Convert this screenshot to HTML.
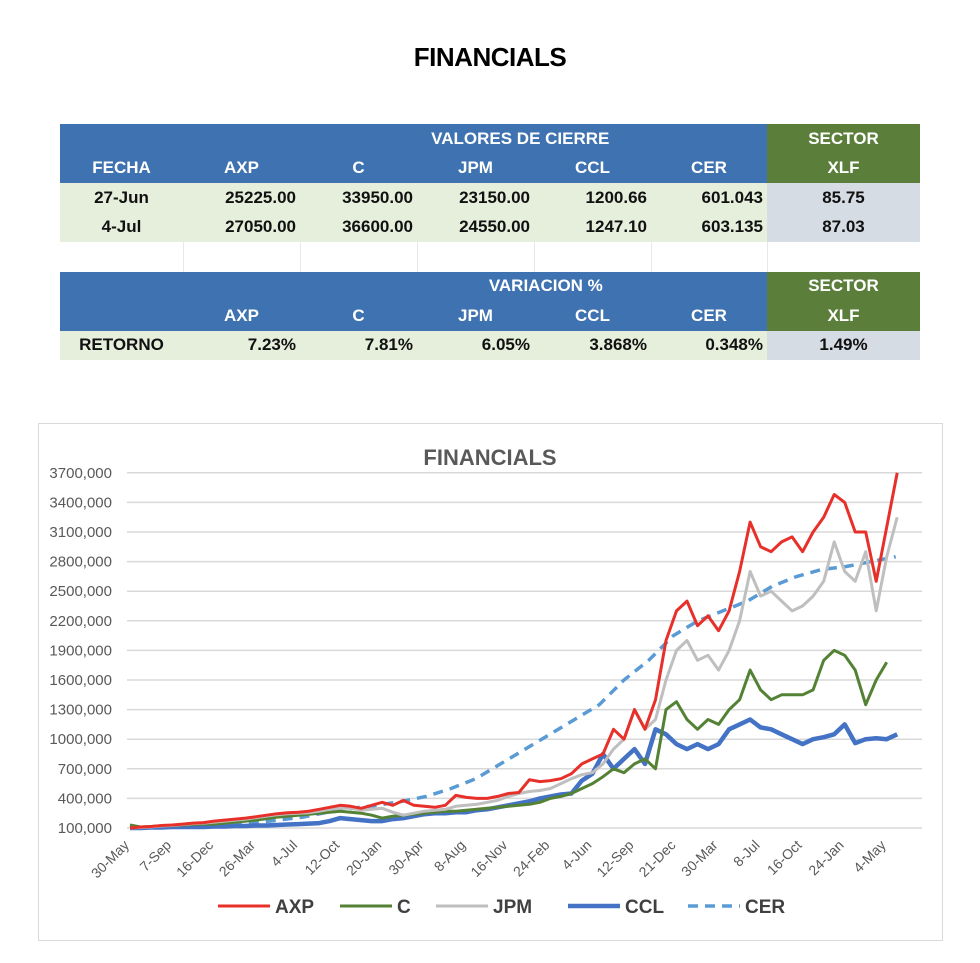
<!DOCTYPE html>
<html><head><meta charset="utf-8">
<style>
body{margin:0;width:980px;height:963px;background:#fff;font-family:"Liberation Sans",sans-serif;position:relative;overflow:hidden}
.t{position:absolute;left:0;width:980px;text-align:center;top:42px;font-size:26px;font-weight:bold;color:#000;letter-spacing:-0.5px}
table{position:absolute;left:60px;top:124px;border-collapse:collapse;font-family:"Liberation Sans Narrow","Liberation Sans",sans-serif;font-weight:bold;font-size:17px}
td{height:29.5px;padding:0 4px;text-align:center}
td.b{background:#3f72b0;color:#fff}td.g{background:#5b7f3b;color:#fff}
td.l{background:#e6efdc;color:#111}td.s{background:#d6dce4;color:#111}
td.r{text-align:right}td.e{border-left:1px solid #e8e8e8}
</style></head><body>
<div class="t">FINANCIALS</div>
<table>
<colgroup><col style="width:123px"><col style="width:117px"><col style="width:117px"><col style="width:117px"><col style="width:117px"><col style="width:116px"><col style="width:153px"></colgroup>
<tr><td class="b"></td><td class="b"></td><td class="b"></td><td class="b" colspan="2" style="text-align:left;padding-left:0px">&nbsp;&nbsp;&nbsp;VALORES DE CIERRE</td><td class="b"></td><td class="g">SECTOR</td></tr>
<tr><td class="b">FECHA</td><td class="b">AXP</td><td class="b">C</td><td class="b">JPM</td><td class="b">CCL</td><td class="b">CER</td><td class="g">XLF</td></tr>
<tr><td class="l">27-Jun</td><td class="l r">25225.00</td><td class="l r">33950.00</td><td class="l r">23150.00</td><td class="l r">1200.66</td><td class="l r">601.043</td><td class="s">85.75</td></tr>
<tr><td class="l">4-Jul</td><td class="l r">27050.00</td><td class="l r">36600.00</td><td class="l r">24550.00</td><td class="l r">1247.10</td><td class="l r">603.135</td><td class="s">87.03</td></tr>
<tr><td></td><td class="e"></td><td class="e"></td><td class="e"></td><td class="e"></td><td class="e"></td><td class="e"></td></tr>
<tr><td class="b"></td><td class="b"></td><td class="b"></td><td class="b" colspan="2">&nbsp;&nbsp;&nbsp;&nbsp;&nbsp;VARIACION %</td><td class="b"></td><td class="g">SECTOR</td></tr>
<tr><td class="b"></td><td class="b">AXP</td><td class="b">C</td><td class="b">JPM</td><td class="b">CCL</td><td class="b">CER</td><td class="g">XLF</td></tr>
<tr><td class="l">RETORNO</td><td class="l r">7.23%</td><td class="l r">7.81%</td><td class="l r">6.05%</td><td class="l r">3.868%</td><td class="l r">0.348%</td><td class="s">1.49%</td></tr>
</table>
<svg id="ch" width="980" height="963" style="position:absolute;left:0;top:0">
<rect x="38.5" y="423.5" width="904" height="517" fill="none" stroke="#d9d9d9"/>
<text x="490" y="465" text-anchor="middle" font-size="22" font-weight="bold" fill="#595959" font-family="Liberation Sans Narrow, Liberation Sans, sans-serif">FINANCIALS</text>
</svg>
<script>
const yTicks=[100,400,700,1000,1300,1600,1900,2200,2500,2800,3100,3400,3700];
const yTickLabels=["100,000","400,000","700,000","1000,000","1300,000","1600,000","1900,000","2200,000","2500,000","2800,000","3100,000","3400,000","3700,000"];
const xTickLabels=["30-May","7-Sep","16-Dec","26-Mar","4-Jul","12-Oct","20-Jan","30-Apr","8-Aug","16-Nov","24-Feb","4-Jun","12-Sep","21-Dec","30-Mar","8-Jul","16-Oct","24-Jan","4-May"];
const AXP=[100,110,115,125,130,140,150,155,170,180,190,200,215,230,245,255,260,270,290,310,330,320,300,330,360,330,380,330,320,310,330,430,410,400,400,420,450,460,590,570,580,600,650,750,800,850,1100,1000,1300,1100,1400,2000,2300,2400,2150,2250,2100,2300,2700,3200,2950,2900,3000,3050,2900,3100,3250,3480,3400,3100,3100,2600,3150,3700];
const JPM=[100,105,110,120,125,135,145,150,160,170,180,190,205,220,235,245,250,255,270,290,300,300,280,290,300,260,230,250,270,280,290,320,330,340,360,380,420,450,470,480,500,550,600,640,660,750,900,1000,1300,1100,1200,1600,1900,2000,1800,1850,1700,1900,2200,2700,2450,2500,2400,2300,2350,2450,2600,3000,2700,2600,2900,2300,2850,3250];
const C=[130,110,115,120,125,130,135,140,140,150,160,170,180,195,210,220,230,240,250,260,270,260,250,230,200,220,230,240,250,260,270,270,280,290,300,310,320,330,340,360,400,420,450,500,550,620,700,660,750,800,700,1300,1380,1200,1100,1200,1150,1300,1400,1700,1500,1400,1450,1450,1450,1500,1800,1900,1850,1700,1350,1600,1780];
const CCL=[100,100,105,105,110,110,110,110,115,115,120,120,125,125,130,135,140,145,150,170,200,190,180,170,170,190,200,220,240,250,250,260,260,280,290,310,330,350,370,400,420,440,450,580,650,850,700,800,900,750,1100,1050,950,900,950,900,950,1100,1150,1200,1120,1100,1050,1000,950,1000,1020,1050,1150,960,1000,1010,1000,1050];
const CER=[100,105,110,118,130,150,180,210,260,300,330,370,420,500,600,750,900,1050,1200,1350,1600,1800,2050,2200,2300,2400,2550,2650,2720,2750,2800,2850];
const cerStep=2.35;
const svg=document.getElementById('ch');const NS='http://www.w3.org/2000/svg';
const X0=130,DX=10.51,Y0=828,YS=29.6/300;
const xs=i=>X0+i*DX;const ys=v=>Y0-(v-100)*YS;
function mk(t,a){const e=document.createElementNS(NS,t);for(const k in a)e.setAttribute(k,a[k]);svg.appendChild(e);return e;}
yTicks.forEach((v,k)=>{
 const l=mk('line',{x1:127,x2:922,y1:ys(v),y2:ys(v),stroke:'#d9d9d9','stroke-width':1.5});
 
 
 const t=mk('text',{x:112,y:ys(v)+5,'text-anchor':'end','font-size':15,fill:'#595959','font-family':'Liberation Sans Narrow, Liberation Sans, sans-serif'});
 t.textContent=yTickLabels[k];
 
 
});
xTickLabels.forEach((s,k)=>{
 const x=xs(k*4),y=846;
 const t=mk('text',{x:x,y:y,'text-anchor':'end','font-size':14,fill:'#595959',transform:`rotate(-45 ${x} ${y})`,'font-family':'Liberation Sans Narrow, Liberation Sans, sans-serif'});
 t.textContent=s;
 
 
});
function series(arr,step,color,w,dash,name){
 const d=arr.map((v,i)=>(i?'L':'M')+xs(i*step).toFixed(1)+' '+ys(v).toFixed(1)).join(' ');
 const p=mk('path',{d:d,fill:'none',stroke:color,'stroke-width':w,'stroke-linejoin':'round'});
 if(dash)p.setAttribute('stroke-dasharray',dash);
 
 
}
series(CER,cerStep,'#5b9bd5',3.5,'10 7','cer-line');
series(CCL,1,'#4472c4',4.5,null,'ccl-line');
series(C,1,'#548235',3,null,'c-line');
series(JPM,1,'#bfbfbf',3,null,'jpm-line');
series(AXP,1,'#e8302a',3,null,'axp-line');
const legendNames=["AXP","C","JPM","CCL","CER"];
const lg=[[218,'#e8302a',3,null],[340,'#548235',3,null],[436,'#bfbfbf',3,null],[568,'#4472c4',4.5,null],[688,'#5b9bd5',3.5,'10 7']];
legendNames.forEach((n,k)=>{
 const [x,c,w,da]=lg[k];
 const l=mk('line',{x1:x,x2:x+52,y1:906,y2:906,stroke:c,'stroke-width':w});
 if(da)l.setAttribute('stroke-dasharray',da);
 
 
 const t=mk('text',{x:x+57,y:913,'font-size':19,'font-weight':'bold',fill:'#404040','font-family':'Liberation Sans Narrow, Liberation Sans, sans-serif'});
 t.textContent=n;
 
 
});
</script>
</body></html>
